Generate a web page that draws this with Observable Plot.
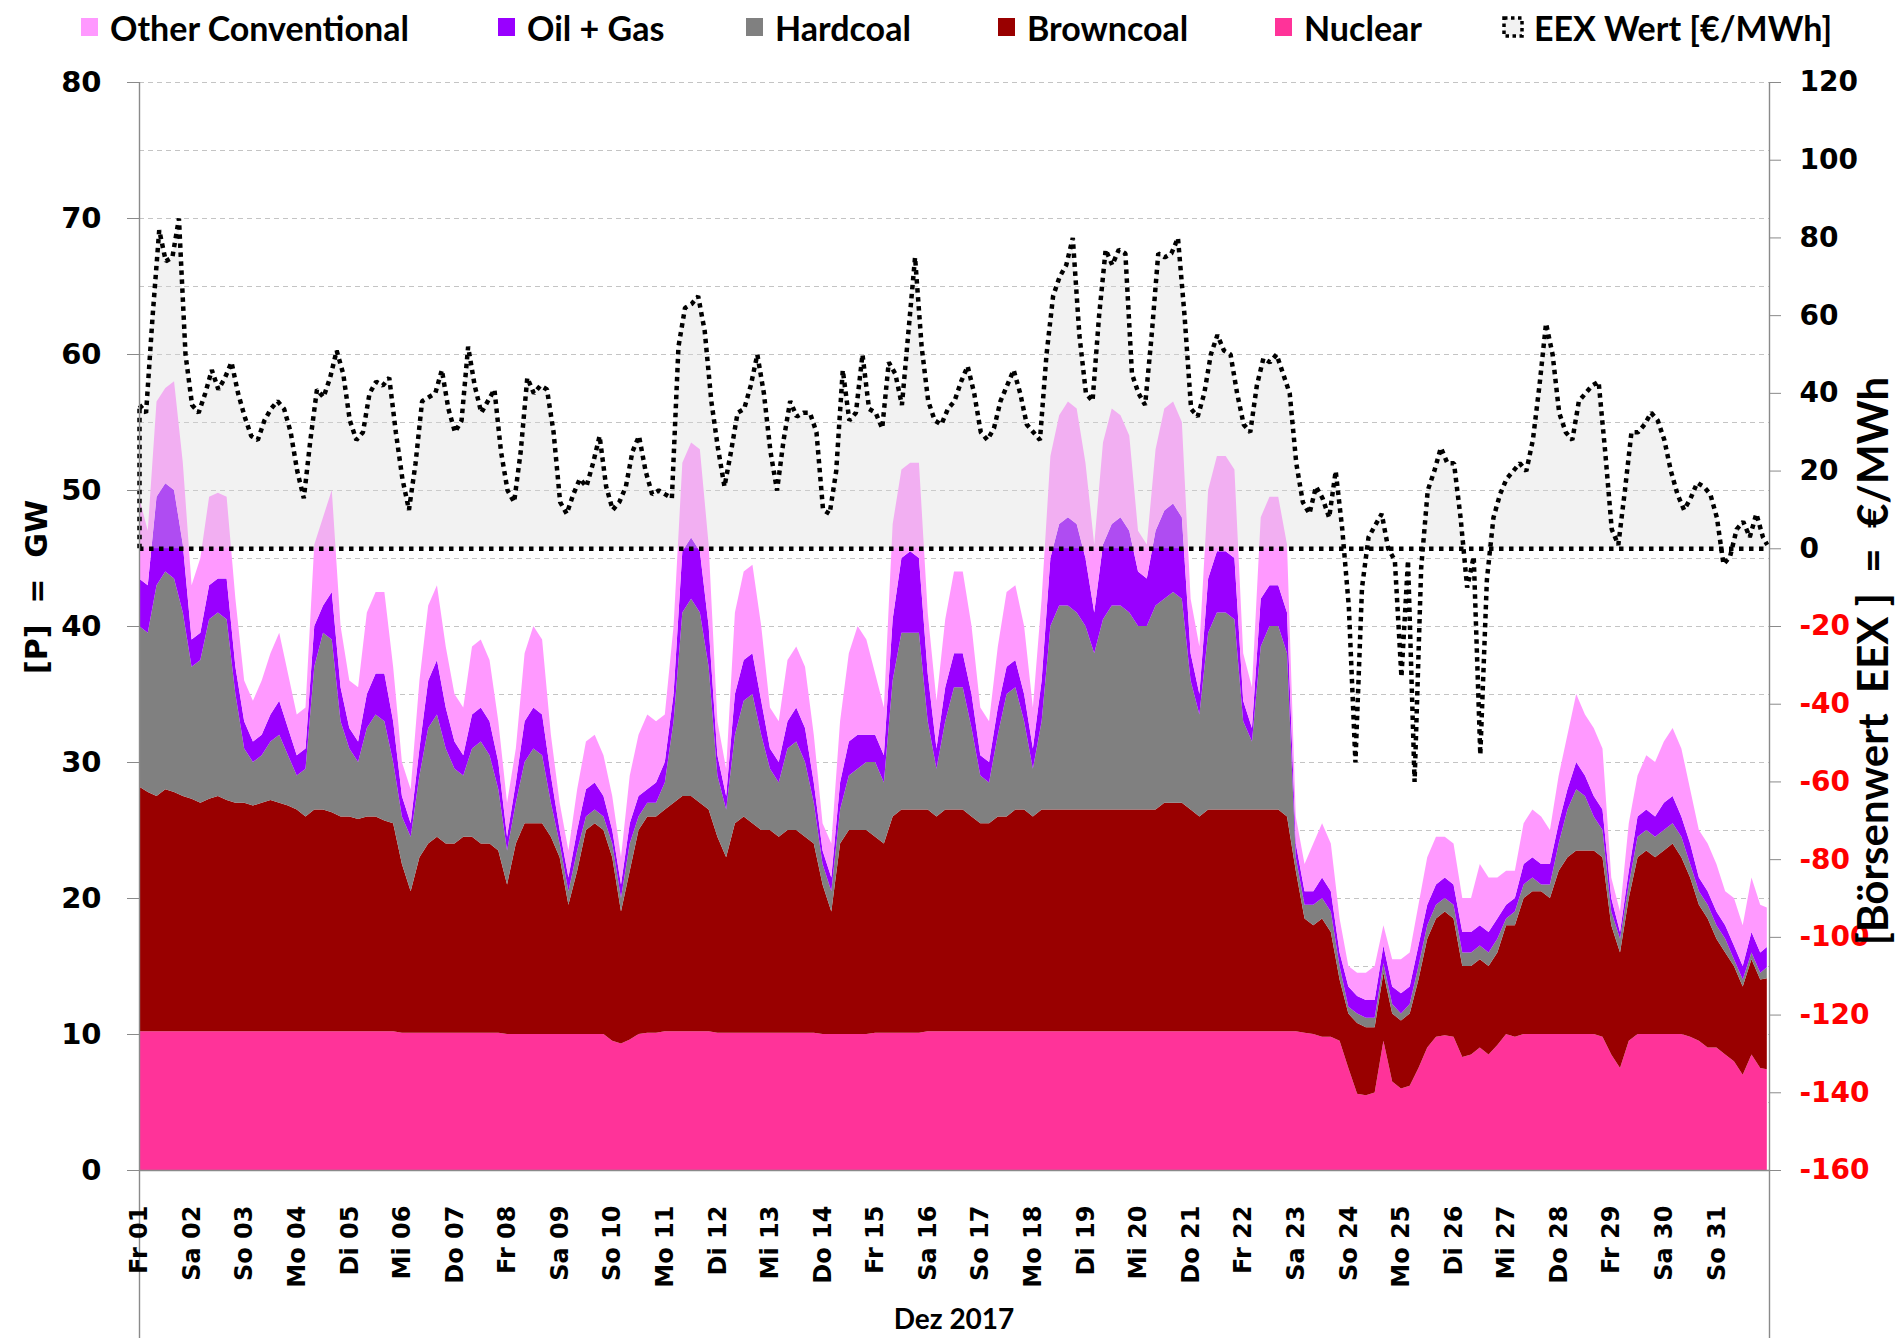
<!DOCTYPE html>
<html>
<head>
<meta charset="utf-8">
<script src="https://cdn.jsdelivr.net/npm/d3@7"></script>
<script src="https://cdn.jsdelivr.net/npm/@observablehq/plot@0.6"></script>
<style>
  body { margin: 0; background: #fff; }
  #wrap { position: relative; width: 1899px; height: 1338px; overflow: hidden; background: #fff; }
  #chart { position: absolute; left: 0; top: 0; }
  .leg { position: absolute; top: 8px; height: 38px; display: flex; align-items: center; white-space: nowrap;
         font-family: Lato, "Open Sans", sans-serif; font-weight: 700; font-size: 34px; color: #000; }
  .sw { display: inline-block; width: 17px; height: 18px; margin-right: 12px; }
  .rot { position: absolute; white-space: pre; transform: translate(-50%, -50%) rotate(-90deg); color: #000; }
  #ttlL { left: 36px; top: 587px; font-family: "DejaVu Sans", Verdana, sans-serif; font-weight: 700; font-size: 30px; }
  #ttlR { left: 1872px; top: 661px; font-family: Lato, sans-serif; font-weight: 700; font-size: 42px; }
  #month { position: absolute; left: 954px; top: 1318px; transform: translate(-50%, -50%);
           font-family: Lato, sans-serif; font-weight: 700; font-size: 28px; }
  svg text { font-weight: bold; }
</style>
</head>
<body>
<div id="wrap">
  <div id="chart"></div>
  <div id="legend"></div>
  <div id="ttlL" class="rot">[P]  =  GW</div>
  <div id="ttlR" class="rot">[Börsenwert  EEX ]  =  €/MWh</div>
  <div id="month">Dez 2017</div>
</div>
<script>
// ---------------- DATA ----------------
const seriesNames  = ["Nuclear", "Browncoal", "Hardcoal", "Oil + Gas", "Other Conventional"];
const seriesColors = ["#ff3399", "#990000", "#808080", "#9900ff", "#ff99ff"];
const legendOrder  = ["Other Conventional", "Oil + Gas", "Hardcoal", "Browncoal", "Nuclear"];
const weekdayLabels = ["So", "Mo", "Di", "Mi", "Do", "Fr", "Sa"];
const monthLabel = "Dez 2017";
const priceLegend = "EEX Wert [€/MWh]";

// generation values (GW), every 4 hours from Dec 01 00:00, plus Dec 31 23:00
const nuclear = [
10.2,10.2,10.2,10.2,10.2,10.2, 10.2,10.2,10.2,10.2,10.2,10.2, 10.2,10.2,10.2,10.2,10.2,10.2,
10.2,10.2,10.2,10.2,10.2,10.2, 10.2,10.2,10.2,10.2,10.2,10.2, 10.1,10.1,10.1,10.1,10.1,10.1,
10.1,10.1,10.1,10.1,10.1,10.1, 10.0,10.0,10.0,10.0,10.0,10.0, 10.0,10.0,10.0,10.0,10.0,10.0,
9.5,9.3,9.6,10.0,10.1,10.1,    10.2,10.2,10.2,10.2,10.2,10.2, 10.1,10.1,10.1,10.1,10.1,10.1,
10.1,10.1,10.1,10.1,10.1,10.1, 10.0,10.0,10.0,10.0,10.0,10.0, 10.1,10.1,10.1,10.1,10.1,10.1,
10.2,10.2,10.2,10.2,10.2,10.2, 10.2,10.2,10.2,10.2,10.2,10.2, 10.2,10.2,10.2,10.2,10.2,10.2,
10.2,10.2,10.2,10.2,10.2,10.2, 10.2,10.2,10.2,10.2,10.2,10.2, 10.2,10.2,10.2,10.2,10.2,10.2,
10.2,10.2,10.2,10.2,10.2,10.2, 10.2,10.1,10.0,9.8,9.8,9.5,    7.5,5.6,5.5,5.7,9.5,6.5,
6.0,6.2,7.5,9.0,9.8,9.9,       9.8,8.3,8.5,9.0,8.5,9.2,       10.0,9.8,10.0,10.0,10.0,10.0,
10.0,10.0,10.0,10.0,10.0,9.8,  8.5,7.5,9.5,10.0,10.0,10.0,    10.0,10.0,10.0,9.8,9.5,9.0,
9.0,8.5,8.0,7.0,8.5,7.5,
7.4];
const browncoal = [
18,17.6,17.3,17.8,17.6,17.3,   17.1,16.8,17.1,17.3,17,16.8,   16.8,16.6,16.8,17,16.8,16.6,
16.3,15.8,16.3,16.3,16.1,15.8, 15.8,15.6,15.8,15.8,15.5,15.3, 12.4,10.4,12.9,13.9,14.4,13.9,
13.9,14.4,14.4,13.9,13.9,13.4, 11,14,15.5,15.5,15.5,14.5,     13,9.5,12,15,15.5,15,
13.5,9.7,12.4,15,15.9,15.9,    16.3,16.8,17.3,17.3,16.8,16.3, 14.4,12.9,15.4,15.9,15.4,14.9,
14.9,14.4,14.9,14.9,14.4,13.9, 11,9,14,15,15,15,              14.4,13.9,15.9,16.4,16.4,16.4,
16.3,15.8,16.3,16.3,16.3,15.8, 15.3,15.3,15.8,15.8,16.3,16.3, 15.8,16.3,16.3,16.3,16.3,16.3,
16.3,16.3,16.3,16.3,16.3,16.3, 16.3,16.3,16.3,16.8,16.8,16.8, 16.3,15.8,16.3,16.3,16.3,16.3,
16.3,16.3,16.3,16.3,16.3,15.8, 11.8,8.4,8,8.7,7.7,4.5,        4,5.2,5,4.8,5,5,
5,5.3,6.5,8,8.7,9.1,           8.7,6.7,6.5,6.5,6.5,6.8,       8,8.2,10,10.5,10.5,10,
12,13,13.5,13.5,13.5,13.2,     9.5,8.5,10.5,13,13.5,13,       13.5,14,13,11.7,10,9.5,
8,7.5,7,6.5,7,6.5,
6.7];
const hardcoal = [
11.8,11.7,15.5,16,15.7,13.5,   9.7,10.5,13.2,13.5,13.3,8,     4,3.2,3.5,4.3,5,3.7,
2.5,3.5,10.5,13,12.7,7,        5,4.2,6.5,7.5,7.3,4.5,         3.5,4,6,8.5,9,7,
5.5,4.5,6.5,7.5,6.5,4.5,       2.5,3,4.5,5.5,5,2.5,           1,1,1.5,1,1,1,
1,1,2,1,1,1,                   2,6,13.5,14.5,14,10.5,         4.5,3.5,6.5,8.5,9.5,7,
4.5,4,6,6.5,5.5,3,             1.5,1.5,2.5,4,4.5,5,           5.5,4.5,10,13,13,13,
6.5,3.5,6.5,9,9,6.5,           3.5,3,6,9,9,6.5,               3.5,6.5,13.5,15,15,14.5,
13.5,11.5,14,15,15,14.5,       13.5,13.5,15,15,15.5,15,       9.5,7.5,13,14.5,14.5,14,
6.5,5,12,13.5,13.5,12,         1,1,1.5,1.5,1.5,1,             0.5,0.7,0.7,0.7,0.7,0.7,
0.5,0.7,1,1,1,1,               1,1,1,1,1,1,                   0.5,1,1,1,0.5,1,
2,3.5,4.5,4,2.5,2,             1,1,1,1.5,1.5,1.5,             1.5,1.5,1.5,1,1,1,
1,1,0.5,0.5,0.5,0.5,
0.8];
const oilGas = [
3.5,3.5,6.5,6.5,6.5,5,         2,2,2.5,2.5,3,2,               2,1.5,1.5,2,2.5,2,
1.5,1.5,3,2,3.5,2.5,           1.5,1.5,2.5,3,3.5,3,           1.5,1,2,3.5,4,3,
2,1.5,2.5,2.5,2.5,2,           1,1.5,3,3,3,2,                 1,1,1.5,2,2,1.5,
1,1,1.5,1.5,1,1.5,             1.5,2,4.5,4.5,4.5,3,           1.5,1,3,3,3,2.5,
1.5,1.5,2,2.5,2.5,1.5,         1,1,2,2.5,2.5,2,               2,2,4.5,5.5,6,5.5,
3.5,1.5,2.5,2.5,2.5,2.5,       1.5,1.5,2,2,2,2,               1.5,3,5,6,6.5,6.5,
5,3,5.5,6,6.5,6,               4,3.5,5.5,6.5,6.5,6,           2,1.5,4,4.5,4.5,4.5,
1.5,1,3.5,3,3,3,               1,1,1,1.5,1.5,1,               1.5,1.3,1.3,1.3,1.3,1.3,
1.5,1.3,1.5,1.5,1.5,1.5,       1.5,1.5,1.5,1.5,1.5,1.5,       1,1,1.5,1.5,1.5,1.5,
1.5,1.5,2,1.5,1.5,1.5,         1,0.5,1,1.5,1.5,1.5,           2,2,1.5,1.5,1,1,
1,1,1,1,1.5,1.5,
1.5];
const otherConventional = [
6,4,7,7,8,6,                   4,5.5,6.5,6.3,6,5,             3,3,4,4.5,5,4,
3,3,6,6.5,7.5,4.5,             3.5,4,6,6,6,4,                 2.5,2.5,5,5.5,5.5,4.5,
3.5,3.5,5,5,4.5,3,             2.5,2.5,5,6,5.5,3,             2,2,3,3.5,3.5,3,
2.5,2,3.5,4.5,5.5,4.5,         3.5,5,6.5,7,7.5,6,             2.5,2,6,6.5,6.5,5.5,
3,3,4.5,4.5,4.5,3.5,           2,2.5,4.5,6.5,8,7,             4.5,3.5,7,6.5,6.5,7,
4.5,3.5,5,6,6,5,               3.5,3,4.5,5.5,5.5,5,           3,6,7.5,8,8.5,8.5,
7,5,7.5,8.5,7.5,7,             3,2.5,6,7.5,7.5,7,             4,3.5,6.5,7,7,6.5,
3.5,3,6,6.5,6.5,5,             2,2,3.5,4,3.5,2.5,             1.5,1.7,2,2.5,1.5,2,
2.5,2.5,3,3.5,3.5,3,           3,2.5,2.5,4.5,4,3,             2.5,2,3,3.5,3.5,2.5,
3.5,4,5,4.5,5,4.5,             1.5,1.5,3.5,3,4,4,             4.5,5,5,4,3.5,3.5,
3.5,2.5,3.5,3,4,3.5,
2.9];

// EEX spot price (€/MWh), every 3 hours from Dec 01 00:00, plus Dec 31 23:00
const eexPrice = [
37,35,60,82,74,75,85,50,       37,35,40,46,41,44,48,40,       34,29,28,33,36,38,36,30,
20,13,28,41,39,44,51,45,       33,28,30,40,43,42,44,30,       18,10,22,38,39,40,46,36,
30,33,52,42,35,38,41,25,       15,12,25,44,40,42,41,30,       12,9,14,18,16,22,29,16,
10,12,16,25,29,20,14,15,       14,13,52,62,63,65,56,38,       26,16,25,35,36,42,50,40,
25,15,28,38,34,35,35,30,       10,9,20,46,33,35,50,36,        35,31,48,45,37,56,75,52,
38,33,32,36,38,43,47,40,       30,28,31,38,42,46,40,32,       30,28,50,65,70,73,80,55,
40,38,60,77,73,77,76,45,       40,37,55,76,75,76,80,60,       36,34,40,50,55,51,50,40,
32,30,42,49,48,50,45,40,       22,12,9,16,13,8,20,5,          -15,-55,-10,3,6,9,0,-3,
-33,-3,-60,-5,15,20,26,22,     22,8,-10,-2,-53,-8,8,14,       18,20,22,20,28,42,58,50,
35,30,28,38,40,42,43,25,       5,1,15,30,30,32,35,33,         28,20,14,10,13,17,16,14,
8,-4,-2,5,7,3,9,3,
1];

// axis ticks
const gwTicks = [0, 10, 20, 30, 40, 50, 60, 70, 80];
const gridValues = [5, 10, 15, 20, 25, 30, 35, 40, 45, 50, 55, 60, 65, 70, 75, 80];
const priceTicks = [-160, -140, -120, -100, -80, -60, -40, -20, 0, 20, 40, 60, 80, 100, 120];

// ---------------- BUILD ----------------
const priceMin = -160, priceMax = 120, gwMax = 80;
const eurPerGW = (priceMax - priceMin) / gwMax;
const toGW = p => (p - priceMin) / eurPerGW;
const fromGW = g => Math.round(g * eurPerGW + priceMin);
const zeroGW = toGW(0);

const start = new Date(Date.UTC(2017, 11, 1));
const end = new Date(Date.UTC(2018, 0, 1));
const atHour = h => new Date(start.getTime() + h * 3600e3);
const stackHours = d3.range(0, 744, 4).concat([743]);
const priceHours = d3.range(0, 744, 3).concat([743]);

const seriesValues = [nuclear, browncoal, hardcoal, oilGas, otherConventional];
const stackData = [];
seriesNames.forEach((name, k) => {
  seriesValues[k].forEach((v, i) => stackData.push({time: atHour(stackHours[i]), series: name, value: v}));
});
const priceData = eexPrice.map((p, i) => ({time: atHour(priceHours[i]), price: p}));

const W = 1899, H = 1338;
const mL = 139, mR = 130, mT = 82, mB = 168;
const pxPerGW = (H - mT - mB) / gwMax;
const yBottom = -mB / pxPerGW;

const dayStarts = d3.utcDays(start, end);
const dayFmt = d => weekdayLabels[d.getUTCDay()] + " " + String(d.getUTCDate()).padStart(2, "0");
const axisGrey = "#8a8a8a";
const tickFont = "DejaVu Sans, Verdana, sans-serif";

const chart = Plot.plot({
  width: W, height: H,
  marginLeft: mL, marginRight: mR, marginTop: mT, marginBottom: mB,
  style: {fontFamily: tickFont, background: "#fff", overflow: "visible"},
  x: {type: "utc", domain: [start, end], label: null},
  y: {domain: [0, gwMax], label: null},
  color: {domain: seriesNames, range: seriesColors},
  marks: [
    Plot.ruleY(gridValues, {stroke: "#c4c4c4", strokeWidth: 1, strokeDasharray: "5,4"}),
    Plot.areaY(stackData, {x: "time", y: "value", z: "series", fill: "series", order: seriesNames, curve: "linear"}),
    Plot.areaY(priceData, {x: "time", y1: zeroGW, y2: d => Math.max(toGW(d.price), zeroGW),
      fill: "#d9d9d9", fillOpacity: 0.35, curve: "linear"}),
    Plot.ruleY([zeroGW], {stroke: "#000", strokeWidth: 4.5, strokeDasharray: "4.5,5.5"}),
    Plot.ruleX([priceData[0]], {x: "time", y1: zeroGW, y2: d => toGW(d.price), stroke: "#000", strokeWidth: 4.5, strokeDasharray: "4.5,4.5"}),
    Plot.lineY(priceData, {x: "time", y: d => toGW(d.price), stroke: "#000", strokeWidth: 4.5,
      strokeDasharray: "4.5,4.5", strokeLinejoin: "miter", strokeLinecap: "butt", curve: "linear"}),
    Plot.ruleX([start, end], {y1: yBottom, y2: gwMax, stroke: axisGrey, strokeWidth: 1.4}),
    Plot.ruleY([0], {stroke: axisGrey, strokeWidth: 1.4}),
    Plot.axisY(gwTicks, {anchor: "left", label: null, tickSize: 12, tickPadding: 26, stroke: axisGrey,
      fill: "#000", fontSize: 29, fontWeight: "bold", fontFamily: tickFont}),
    Plot.axisY(priceTicks.filter(p => p >= 0).map(toGW), {anchor: "right", label: null, tickSize: 11, tickPadding: 19,
      tickFormat: fromGW, stroke: axisGrey, fill: "#000", fontSize: 28, fontWeight: "bold", fontFamily: tickFont}),
    Plot.axisY(priceTicks.filter(p => p < 0).map(toGW), {anchor: "right", label: null, tickSize: 11, tickPadding: 19,
      tickFormat: fromGW, stroke: axisGrey, fill: "#ff0000", fontSize: 28, fontWeight: "bold", fontFamily: tickFont}),
    Plot.axisX(dayStarts, {anchor: "bottom", label: null, tickSize: 0, tickPadding: 35, tickRotate: -90,
      tickFormat: dayFmt, fill: "#000", fontSize: 24, fontWeight: "bold", fontFamily: tickFont})
  ]
});
document.getElementById("chart").appendChild(chart);

// ---------------- LEGEND ----------------
const legendX = {"Other Conventional": 81, "Oil + Gas": 498, "Hardcoal": 746, "Browncoal": 998, "Nuclear": 1275};
const legend = document.getElementById("legend");
legendOrder.forEach(name => {
  const item = document.createElement("div");
  item.className = "leg";
  item.style.left = legendX[name] + "px";
  const sw = document.createElement("span");
  sw.className = "sw";
  sw.style.background = seriesColors[seriesNames.indexOf(name)];
  item.appendChild(sw);
  item.appendChild(document.createTextNode(name));
  legend.appendChild(item);
});
const pItem = document.createElement("div");
pItem.className = "leg";
pItem.style.left = "1502px";
pItem.innerHTML = '<svg width="22" height="22" style="margin-right:10px"><rect x="2" y="2" width="18" height="18" fill="#f2f2f2" stroke="#000" stroke-width="3.5" stroke-dasharray="3.5,3.5"/></svg>';
pItem.appendChild(document.createTextNode(priceLegend));
legend.appendChild(pItem);
</script>
</body>
</html>
